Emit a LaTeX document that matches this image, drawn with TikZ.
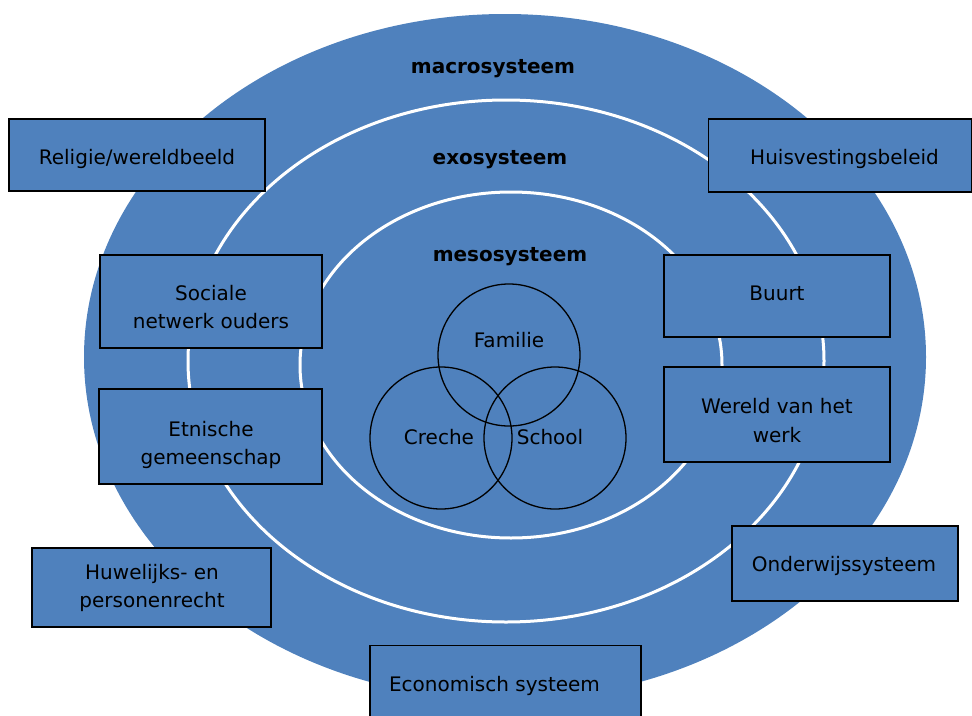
\documentclass[tikz,border=0pt]{standalone}
\usepackage{fontspec}
\setmainfont{DejaVu Sans}
\definecolor{sysblue}{HTML}{4F81BD}
\begin{document}
\begin{tikzpicture}[x=1pt,y=-1pt,
  sysbox/.style={draw=black, line width=1.2pt, fill=sysblue, inner sep=0pt},
  ring/.style={draw=white, line width=3pt},
  venn/.style={draw=black, line width=1.3pt, circle, inner sep=0pt, minimum size=142pt},
  txt/.style={font=\fontsize{20}{28.5}\selectfont, text=black, inner sep=0pt, anchor=base, align=center},
  lbl/.style={font=\fontsize{20}{28.5}\selectfont\bfseries, text=black, inner sep=0pt, anchor=base}]
\useasboundingbox (0,0) rectangle (972,715);
\clip (0,0) rectangle (972,715);
% system rings
\fill[sysblue] (505,357) ellipse [x radius=421pt, y radius=343pt];
\draw[ring] (506,361) ellipse [x radius=318pt, y radius=261pt];
\draw[ring] (511,365) ellipse [x radius=211pt, y radius=173pt];
% ring labels
\node[lbl] (macro) at (493,73) {macrosysteem};
\node[lbl] (exo) at (500,164) {exosysteem};
\node[lbl] (meso) at (510,261) {mesosysteem};
% boxes
\node[sysbox, minimum width=256pt, minimum height=72pt] (rel) at (137,155) {};
\node[sysbox, minimum width=263pt, minimum height=73pt] (huis) at (840,155.5) {};
\node[sysbox, minimum width=222pt, minimum height=93pt] (soc) at (211,301.5) {};
\node[sysbox, minimum width=226pt, minimum height=82pt] (buurt) at (777,296) {};
\node[sysbox, minimum width=223pt, minimum height=95pt] (etn) at (210.5,436.5) {};
\node[sysbox, minimum width=226pt, minimum height=95pt] (werk) at (777,414.5) {};
\node[sysbox, minimum width=239pt, minimum height=79pt] (huw) at (151.5,587.5) {};
\node[sysbox, minimum width=226pt, minimum height=75pt] (ond) at (845,563.5) {};
\node[sysbox, minimum width=271pt, minimum height=80pt, anchor=north] (eco) at (505.5,645) {};
% box texts
\node[txt] (relt) at (137,164) {Religie/wereldbeeld};
\node[txt] (huist) at (844.5,164) {Huisvestingsbeleid};
\node[txt] (soct1) at (211,300) {Sociale};
\node[txt] (soct2) at (211,328) {netwerk ouders};
\node[txt] (buurtt) at (777,300) {Buurt};
\node[txt] (etnt1) at (211,436) {Etnische};
\node[txt] (etnt2) at (211,464) {gemeenschap};
\node[txt] (werkt1) at (777,413) {Wereld van het};
\node[txt] (werkt2) at (777,442) {werk};
\node[txt] (huwt1) at (152,579) {Huwelijks- en};
\node[txt] (huwt2) at (152,607) {personenrecht};
\node[txt] (ondt) at (844,571) {Onderwijssysteem};
\node[txt] (ecot) at (494.5,691) {Economisch systeem};
% Venn circles
\node[venn] (fam) at (509,355) {};
\node[venn] (cre) at (441,438) {};
\node[venn] (sch) at (555,438) {};
\node[txt] (famt) at (509,347) {Familie};
\node[txt] (cret) at (439,444) {Creche};
\node[txt] (scht) at (550,444) {School};
\end{tikzpicture}
\end{document}
